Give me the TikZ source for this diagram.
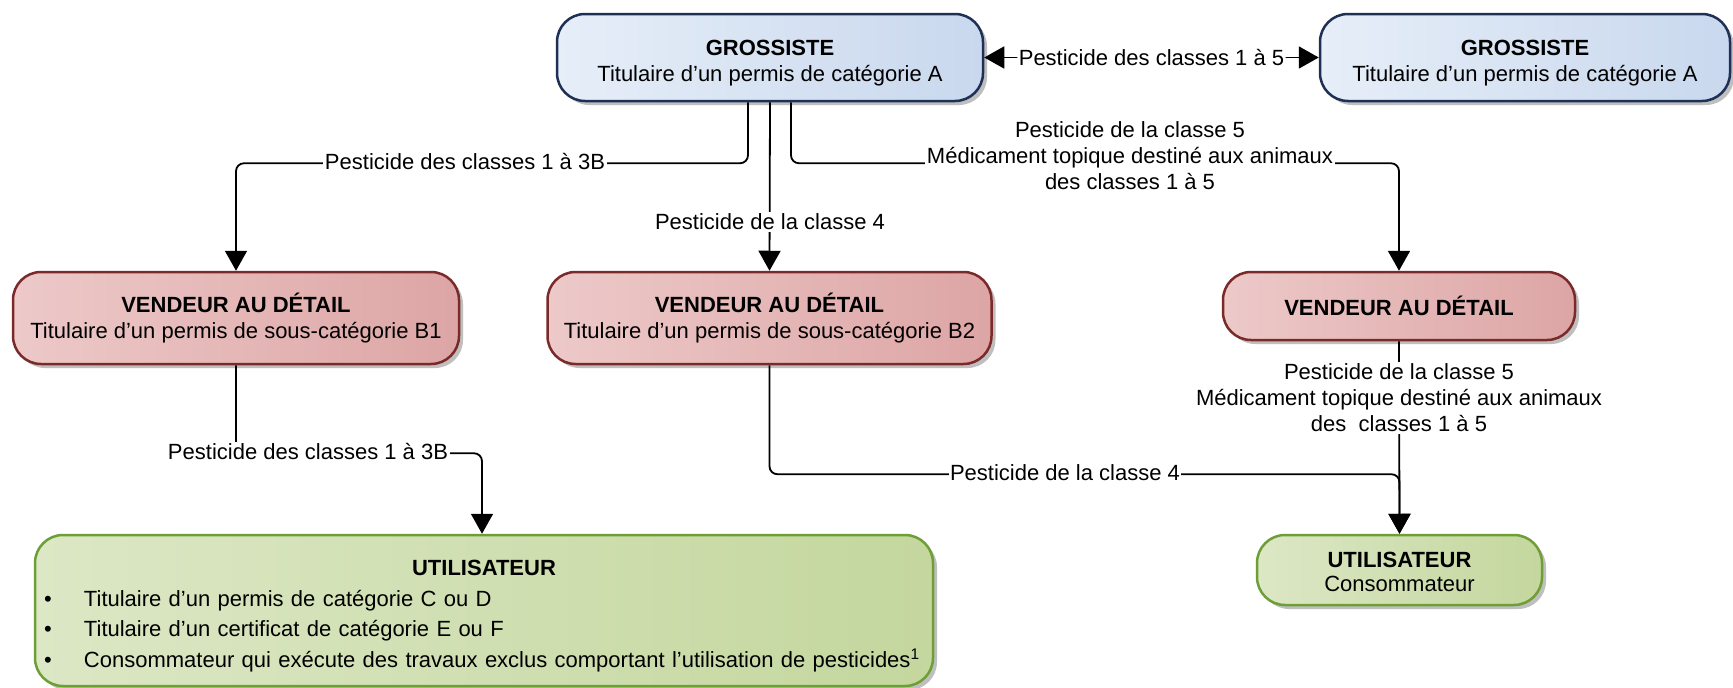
\documentclass[tikz,border=0pt]{standalone}
\usepackage{fontspec}
\setmainfont{Liberation Sans}
\usetikzlibrary{arrows.meta,shadows}
\definecolor{gline}{HTML}{1F3055}
\definecolor{gL}{HTML}{E6EEF8}
\definecolor{gR}{HTML}{C9D8EE}
\definecolor{vline}{HTML}{7B2A2A}
\definecolor{vL}{HTML}{EDC9C9}
\definecolor{vR}{HTML}{DDA5A5}
\definecolor{uline}{HTML}{6E9E36}
\definecolor{uL}{HTML}{DCE7C5}
\definecolor{uR}{HTML}{C4D79E}
\begin{document}
\begin{tikzpicture}[x=1pt,y=-1pt,
  txt/.style={font=\fontsize{22}{26}\selectfont},
  box/.style={txt, rounded corners=28pt, line width=2.5pt, align=center, inner sep=0pt,
    drop shadow={shadow xshift=4pt,shadow yshift=-4pt,fill=black!45,opacity=0.55}},
  gbox/.style={box, draw=gline, left color=gL, right color=gR},
  vbox/.style={box, draw=vline, left color=vL, right color=vR},
  ubox/.style={box, draw=uline, left color=uL, right color=uR},
  conn/.style={line width=1.8pt, rounded corners=8pt},
  arr/.style={conn, -{Triangle[length=20pt,width=22pt]}},
  darr/.style={conn, {Triangle[length=20pt,width=22pt]}-{Triangle[length=20pt,width=22pt]}},
  lbl/.style={txt, fill=white, inner sep=1.5pt, align=center}
]
\fill[white] (0,0) rectangle (1733,688);
\useasboundingbox (0,0) rectangle (1733,688);

% boxes
\node[gbox, minimum width=426pt, minimum height=87pt] (G1) at (770,57.5)
  {\rule{0pt}{26pt}\textbf{GROSSISTE}\\Titulaire d’un permis de catégorie A};
\node[gbox, minimum width=410pt, minimum height=87pt] (G2) at (1525,57.5)
  {\rule{0pt}{26pt}\textbf{GROSSISTE}\\Titulaire d’un permis de catégorie A};
\node[vbox, minimum width=446pt, minimum height=92pt] (V1) at (236,318)
  {\textbf{VENDEUR AU DÉTAIL}\\Titulaire d’un permis de sous-catégorie B1};
\node[vbox, minimum width=444pt, minimum height=92pt] (V2) at (769.5,318)
  {\textbf{VENDEUR AU DÉTAIL}\\Titulaire d’un permis de sous-catégorie B2};
\node[vbox, minimum width=352pt, minimum height=68pt] (V3) at (1399,306)
  {\textbf{VENDEUR AU DÉTAIL}};
\node[ubox, minimum width=898pt, minimum height=151pt] (U1) at (484,610.5) {};
\node[font=\fontsize{22}{30.7}\selectfont, text width=880pt, align=left, inner sep=0pt] (U1t) at (484,616)
  {{\centering\bfseries UTILISATEUR\par}%
   \mbox{\makebox[40pt][l]{•}Titulaire d’un permis de catégorie C ou D}\par
   \mbox{\makebox[40pt][l]{•}Titulaire d’un certificat de catégorie E ou F}\par
   \mbox{\makebox[40pt][l]{•}Consommateur qui exécute des travaux exclus comportant l’utilisation de pesticides\textsuperscript{1}}};
\node[ubox, minimum width=285pt, minimum height=70pt] (U2) at (1399.5,570)
  {\rule{0pt}{20pt}\textbf{UTILISATEUR}\\[-2pt]Consommateur};

% connectors
\draw[darr] (G1.east) -- node[lbl] (L0) {Pesticide des classes 1 à 5} (G2.west);
\draw[arr] ([xshift=-22pt]G1.south) -- ++(0,61) -| (V1.north);
\draw[arr] (G1.south) -- (V2.north);
\draw[arr] ([xshift=21pt]G1.south) -- ++(0,61) -| (V3.north);
\draw[arr] (V1.south) -- ++(0,88) -| ([xshift=-2pt]U1.north);
\draw[arr] (V2.south) -- ++(0,109) -| (U2.north);
\draw[arr] (V3.south) -- (U2.north);

% labels
\node[lbl] (L1) at (465,162) {Pesticide des classes 1 à 3B};
\node[lbl] (L2) at (770,222) {Pesticide de la classe 4};
\node[lbl] (L3) at (1130,156) {Pesticide de la classe 5\\Médicament topique destiné aux animaux\\des classes 1 à 5};
\node[lbl] (L4) at (308,452) {Pesticide des classes 1 à 3B};
\node[lbl] (L5) at (1065,473) {Pesticide de la classe 4};
\node[lbl] (L6) at (1399,398) {Pesticide de la classe 5\\Médicament topique destiné aux animaux\\des\ \ classes 1 à 5};
\end{tikzpicture}
\end{document}
